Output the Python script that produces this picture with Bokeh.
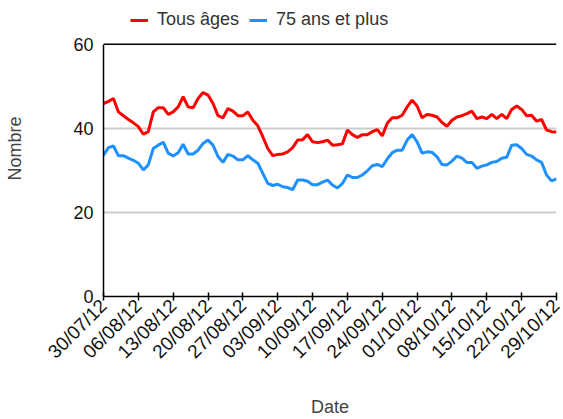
import math
import pandas as pd
from bokeh.plotting import figure
from bokeh.models import Range1d, FixedTicker, Span, Legend, LegendItem
from bokeh.embed import file_html
from bokeh.resources import INLINE

# ---- data ----
start_date = "2012-07-30"
end_date = "2012-10-29"

tous_ages = [45.9, 46.4, 47.1, 43.9, 43.0, 42.1, 41.3, 40.4, 38.6, 39.2, 43.9, 44.9,
             44.9, 43.3, 43.9, 45.1, 47.5, 45.1, 44.9, 47.1, 48.5, 47.9, 45.9, 43.0,
             42.5, 44.7, 44.1, 43.0, 43.0, 43.9, 41.9, 40.6, 38.0, 35.2, 33.5, 33.8,
             33.9, 34.4, 35.4, 37.2, 37.3, 38.5, 36.8, 36.6, 36.8, 37.2, 36.0,
             36.1, 36.3, 39.6, 38.5, 37.8, 38.5, 38.5, 39.2, 39.7, 38.2, 41.2, 42.5,
             42.5, 43.1, 45.1, 46.7, 45.3, 42.5, 43.3, 43.1, 42.7, 41.4, 40.5,
             41.9, 42.7, 43.0, 43.5, 44.1, 42.3, 42.7, 42.3, 43.3, 42.3, 43.3, 42.3,
             44.5, 45.3, 44.5, 43.0, 43.1, 41.7, 42.1, 39.6, 39.2, 39.1]

plus_75 = [33.6, 35.4, 35.8, 33.5, 33.5, 32.9, 32.4, 31.7, 30.1, 31.3, 35.2, 36.0,
           36.7, 34.1, 33.4, 34.2, 36.2, 33.9, 33.9, 34.8, 36.4, 37.2, 36.0, 33.3,
           31.9, 33.8, 33.4, 32.5, 32.5, 33.5, 32.5, 31.7, 29.3, 26.9, 26.4, 26.7,
           26.1, 25.9, 25.4, 27.7, 27.7, 27.4, 26.6, 26.6, 27.2, 27.7, 26.5,
           25.8, 26.9, 28.9, 28.3, 28.3, 28.9, 29.9, 31.1, 31.4, 30.9, 32.7, 34.2,
           34.8, 34.8, 37.2, 38.5, 36.8, 34.1, 34.4, 34.3, 33.2, 31.4, 31.3,
           32.2, 33.4, 32.9, 31.9, 31.9, 30.5, 31.0, 31.3, 31.9, 32.1, 32.9, 33.1,
           36.0, 36.1, 35.2, 33.8, 33.4, 32.5, 31.9, 28.9, 27.5, 28.0]

x_tick_labels = ["30/07/12", "06/08/12", "13/08/12", "20/08/12", "27/08/12",
                 "03/09/12", "10/09/12", "17/09/12", "24/09/12", "01/10/12",
                 "08/10/12", "15/10/12", "22/10/12", "29/10/12"]
y_ticks = [0, 20, 40, 60]
y_max = 60

series_names = ["Tous âges", "75 ans et plus"]
series_colors = ["#FF0000", "#1E90FF"]

# ---- derived x positions (days from start) ----
dates = pd.date_range(start_date, end_date, freq="D")
days = [(d - dates[0]).days for d in dates]
tick_days = [(pd.to_datetime(t, format="%d/%m/%y") - dates[0]).days for t in x_tick_labels]

FONT = "Liberation Sans"
# the frame reaches the top of the figure so that the legend (inside it) is not clipped
HEADROOM = 10.4

p = figure(width=563, height=419, output_backend="svg", toolbar_location=None,
           x_range=Range1d(days[0], days[-1]), y_range=Range1d(0, y_max + HEADROOM),
           min_border_left=103, min_border_right=7, min_border_top=0,
           min_border_bottom=122)
p.outline_line_color = None
p.background_fill_color = "white"
p.border_fill_color = "white"

# grid
p.xgrid.visible = False
p.ygrid.ticker = FixedTicker(ticks=[t for t in y_ticks if 0 < t < y_max])
p.ygrid.grid_line_color = "#CCCCCC"
p.ygrid.grid_line_width = 2

# top line at 60
p.add_layout(Span(location=y_max, dimension="width", line_color="black", line_width=1.5))

# lines
r1 = p.line(days, tous_ages, line_color=series_colors[0], line_width=3)
r2 = p.line(days, plus_75, line_color=series_colors[1], line_width=3)

# x axis
xa = p.xaxis[0]
xa.ticker = FixedTicker(ticks=tick_days)
xa.major_label_overrides = {d: l for d, l in zip(tick_days, x_tick_labels)}
xa.major_label_orientation = math.pi / 4
xa.major_label_text_font = FONT
xa.major_label_text_font_size = "19px"
xa.major_label_text_color = "#111111"
xa.major_label_standoff = 2
xa.minor_tick_line_color = None
xa.major_tick_in = 4
xa.major_tick_out = 4
xa.major_tick_line_color = "black"
xa.major_tick_line_width = 1.5
xa.axis_line_color = "black"
xa.axis_line_width = 1.5
xa.axis_label = "Date"
xa.axis_label_text_font = FONT
xa.axis_label_text_font_size = "18px"
xa.axis_label_text_font_style = "normal"
xa.axis_label_text_color = "#444444"
xa.axis_label_standoff = 24

# y axis
ya = p.yaxis[0]
ya.ticker = FixedTicker(ticks=y_ticks)
ya.bounds = (0, y_max)
ya.major_label_standoff = 10
ya.major_label_text_font = FONT
ya.major_label_text_font_size = "18px"
ya.major_label_text_color = "#111111"
ya.major_tick_in = 0
ya.major_tick_out = 0
ya.minor_tick_line_color = None
ya.axis_line_color = "black"
ya.axis_line_width = 1.5
ya.axis_label = "Nombre"
ya.axis_label_text_font = FONT
ya.axis_label_text_font_size = "18px"
ya.axis_label_text_font_style = "normal"
ya.axis_label_text_color = "#444444"
ya.axis_label_standoff = 45

# legend (inside the frame's headroom, above the 60 line)
legend = Legend(items=[LegendItem(label=series_names[0], renderers=[r1]),
                       LegendItem(label=series_names[1], renderers=[r2])],
                orientation="horizontal", location=(27, 266),
                glyph_width=18, glyph_height=20, label_standoff=9, spacing=10,
                padding=0, margin=0, border_line_alpha=0, background_fill_alpha=0,
                label_text_font=FONT, label_text_font_size="18px",
                label_text_color="#333333", label_height=20)
p.add_layout(legend, "center")

open("out.html", "w").write(file_html(p, INLINE))
